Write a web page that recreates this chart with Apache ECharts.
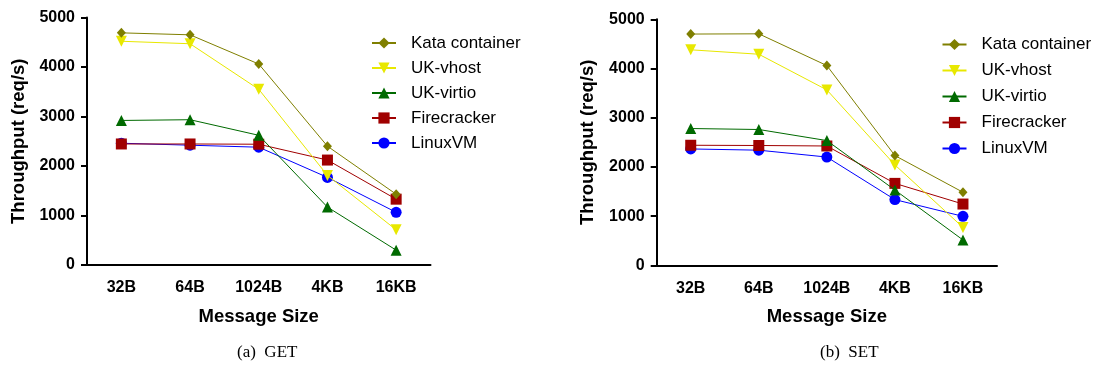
<!DOCTYPE html>
<html>
<head>
<meta charset="utf-8">
<script src="https://cdn.jsdelivr.net/npm/echarts@6/dist/echarts.min.js"></script>
<style>html,body{margin:0;padding:0;background:#fff;}#c{width:1106px;height:370px;}</style>
</head>
<body>
<div id="c"></div>
<script>
const categories = ['32B', '64B', '1024B', '4KB', '16KB'];
const seriesNames = ['Kata container', 'UK-vhost', 'UK-virtio', 'Firecracker', 'LinuxVM'];
const getKata = [4690, 4650, 4060, 2400, 1430];
const getVhost = [4520, 4470, 3550, 1810, 710];
const getVirtio = [2920, 2935, 2620, 1170, 300];
const getFirecracker = [2445, 2445, 2440, 2120, 1330];
const getLinuxVM = [2460, 2420, 2380, 1770, 1065];
const setKata = [4700, 4705, 4060, 2230, 1485];
const setVhost = [4380, 4290, 3565, 2040, 770];
const setVirtio = [2780, 2760, 2535, 1530, 515];
const setFirecracker = [2440, 2435, 2425, 1665, 1245];
const setLinuxVM = [2365, 2340, 2200, 1335, 995];
const yTicks = [0, 1000, 2000, 3000, 4000, 5000];

const colors = ['#7f7f00', '#e8e800', '#006a00', '#a00000', '#0000ff'];
const symbols = ['diamond', 'triangle', 'triangle', 'rect', 'circle'];
const symbolSizes = [[9, 10], 11, 11, 11, 11];
const symbolRotate = [0, 180, 0, 0, 0];

const getData = [getKata, getVhost, getVirtio, getFirecracker, getLinuxVM];
const setData = [setKata, setVhost, setVirtio, setFirecracker, setLinuxVM];

function makeSeries(dataArr, idx) {
  return seriesNames.map((n, i) => ({
    name: n, type: 'line', xAxisIndex: idx, yAxisIndex: idx,
    data: dataArr[i], symbol: symbols[i], symbolSize: symbolSizes[i], symbolRotate: symbolRotate[i],
    lineStyle: { color: colors[i], width: 1 }, itemStyle: { color: colors[i] },
    z: 10 - i
  }));
}

const axisFont = { fontFamily: 'Liberation Sans, Arial', fontWeight: 'bold', fontSize: 16, color: '#000' };
function xAx(gi) {
  return {
    type: 'category', gridIndex: gi, data: categories, boundaryGap: true,
    name: 'Message Size', nameLocation: 'middle', nameGap: 42,
    nameTextStyle: { fontFamily: 'Liberation Sans, Arial', fontWeight: 'bold', fontSize: 18.5, color: '#000' },
    axisLine: { lineStyle: { color: '#000', width: 2 } },
    axisTick: { alignWithLabel: true, length: 6, lineStyle: { color: '#000', width: 2 } },
    axisLabel: Object.assign({ margin: 15 }, axisFont),
    splitLine: { show: false }
  };
}
function yAx(gi) {
  return {
    type: 'value', gridIndex: gi, min: yTicks[0], max: yTicks[yTicks.length - 1], interval: 1000,
    name: 'Throughput (req/s)', nameLocation: 'middle', nameGap: 59,
    nameTextStyle: { fontFamily: 'Liberation Sans, Arial', fontWeight: 'bold', fontSize: 18.5, color: '#000' },
    axisLine: { show: true, lineStyle: { color: '#000', width: 2 } },
    axisTick: { show: true, length: 6, lineStyle: { color: '#000', width: 2 } },
    axisLabel: Object.assign({ margin: 12, formatter: v => String(v) }, axisFont),
    splitLine: { show: false }
  };
}
function legend(left, top, gap) {
  return {
    orient: 'vertical', left: left, top: top, itemGap: gap, itemWidth: 24, itemHeight: 14,
    data: seriesNames,
    textStyle: { fontFamily: 'Liberation Sans, Arial', fontSize: 17, color: '#000', padding: [0, 0, 0, 10] }
  };
}

const chart = echarts.init(document.getElementById('c'), null, { renderer: 'canvas' });
chart.setOption({
  animation: false,
  backgroundColor: '#fff',
  grid: [
    { left: 87, right: 675.5, top: 17.5, bottom: 105 },
    { left: 656.7, right: 109, top: 19.3, bottom: 104.7 }
  ],
  xAxis: [xAx(0), xAx(1)],
  yAxis: [yAx(0), yAx(1)],
  legend: [legend(366, 29.5, 8), legend(936.5, 31, 9)],
  graphic: [
    { type: 'text', left: 237, top: 344, style: { text: '(a)  GET', fontFamily: 'Liberation Serif, Times New Roman', fontSize: 17, fill: '#000' } },
    { type: 'text', left: 820, top: 344, style: { text: '(b)  SET', fontFamily: 'Liberation Serif, Times New Roman', fontSize: 17, fill: '#000' } }
  ],
  series: makeSeries(getData, 0).concat(makeSeries(setData, 1))
});
</script>
</body>
</html>
